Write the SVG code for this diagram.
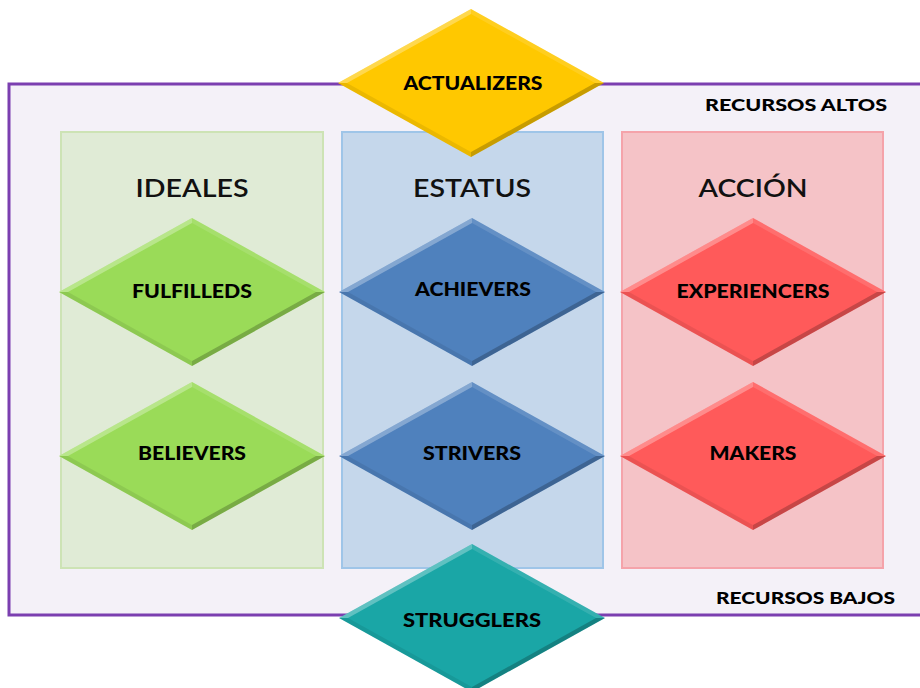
<svg xmlns="http://www.w3.org/2000/svg" xmlns:xlink="http://www.w3.org/1999/xlink" width="920" height="688" viewBox="0 0 920 688">
<style>
.lbl{font-family:Lato,"Liberation Sans",sans-serif;font-weight:900;font-size:18px;fill:#000;text-anchor:middle}
.hdr{font-family:Lato,"Liberation Sans",sans-serif;font-weight:600;font-size:24px;fill:#111;text-anchor:middle}
.res{font-family:Lato,"Liberation Sans",sans-serif;font-weight:900;font-size:17px;fill:#000;text-anchor:end}
</style>
<defs>
<polygon id="dia" points="0,-74 133,0 0,74 -133,0"/>
<g id="bevel">
<polygon points="-133,0 0,-74 0,-69 -124,0" fill="#fff" fill-opacity="0.3"/>
<polygon points="0,-74 133,0 124,0 0,-69" fill="#fff" fill-opacity="0.12"/>
<polygon points="133,0 0,74 0,69 124,0" fill="#000" fill-opacity="0.22"/>
<polygon points="0,74 -133,0 -124,0 0,69" fill="#000" fill-opacity="0.08"/>
</g>
</defs>
<rect width="920" height="688" fill="#fff"/>
<rect id="frame" x="9" y="84" width="930" height="531" fill="#F4F1F8" stroke="#7B3FB0" stroke-width="3"/>
<rect id="col-ideales" x="61" y="132" width="262" height="436" fill="#E0EBD6" stroke="#CDE3B5" stroke-width="2"/>
<rect id="col-estatus" x="342" y="132" width="261" height="436" fill="#C5D7EB" stroke="#9FC5E8" stroke-width="2"/>
<rect id="col-accion" x="622" y="132" width="261" height="436" fill="#F5C3C7" stroke="#F5A3AA" stroke-width="2"/>
<text class="hdr" x="192" y="197" textLength="113" lengthAdjust="spacingAndGlyphs">IDEALES</text>
<text class="hdr" x="472" y="197" textLength="118" lengthAdjust="spacingAndGlyphs">ESTATUS</text>
<text class="hdr" x="753" y="197" textLength="109" lengthAdjust="spacingAndGlyphs">ACCIÓN</text>
<text class="res" x="887" y="111" textLength="182" lengthAdjust="spacingAndGlyphs">RECURSOS ALTOS</text>
<text class="res" x="895" y="604" textLength="179" lengthAdjust="spacingAndGlyphs">RECURSOS BAJOS</text>
<g id="actualizers" transform="translate(471,83)"><use href="#dia" fill="#FFC800"/><use href="#bevel"/><text class="lbl" x="2" y="7" textLength="139" lengthAdjust="spacingAndGlyphs">ACTUALIZERS</text></g>
<g id="fulfilleds" transform="translate(192,292)"><use href="#dia" fill="#9ADB58"/><use href="#bevel"/><text class="lbl" y="6" textLength="120" lengthAdjust="spacingAndGlyphs">FULFILLEDS</text></g>
<g id="believers" transform="translate(192,456)"><use href="#dia" fill="#9ADB58"/><use href="#bevel"/><text class="lbl" y="4" textLength="108" lengthAdjust="spacingAndGlyphs">BELIEVERS</text></g>
<g id="achievers" transform="translate(472,292)"><use href="#dia" fill="#4F81BD"/><use href="#bevel"/><text class="lbl" x="1" y="4" textLength="116" lengthAdjust="spacingAndGlyphs">ACHIEVERS</text></g>
<g id="strivers" transform="translate(472,456)"><use href="#dia" fill="#4F81BD"/><use href="#bevel"/><text class="lbl" y="4" textLength="98" lengthAdjust="spacingAndGlyphs">STRIVERS</text></g>
<g id="experiencers" transform="translate(753,292)"><use href="#dia" fill="#FF5A5A"/><use href="#bevel"/><text class="lbl" y="6" textLength="153" lengthAdjust="spacingAndGlyphs">EXPERIENCERS</text></g>
<g id="makers" transform="translate(753,456)"><use href="#dia" fill="#FF5A5A"/><use href="#bevel"/><text class="lbl" y="4" textLength="87" lengthAdjust="spacingAndGlyphs">MAKERS</text></g>
<g id="strugglers" transform="translate(472,618)"><use href="#dia" fill="#1AA6A6"/><use href="#bevel"/><text class="lbl" y="9" textLength="138" lengthAdjust="spacingAndGlyphs">STRUGGLERS</text></g>
<g id="connectors"/>
</svg>
